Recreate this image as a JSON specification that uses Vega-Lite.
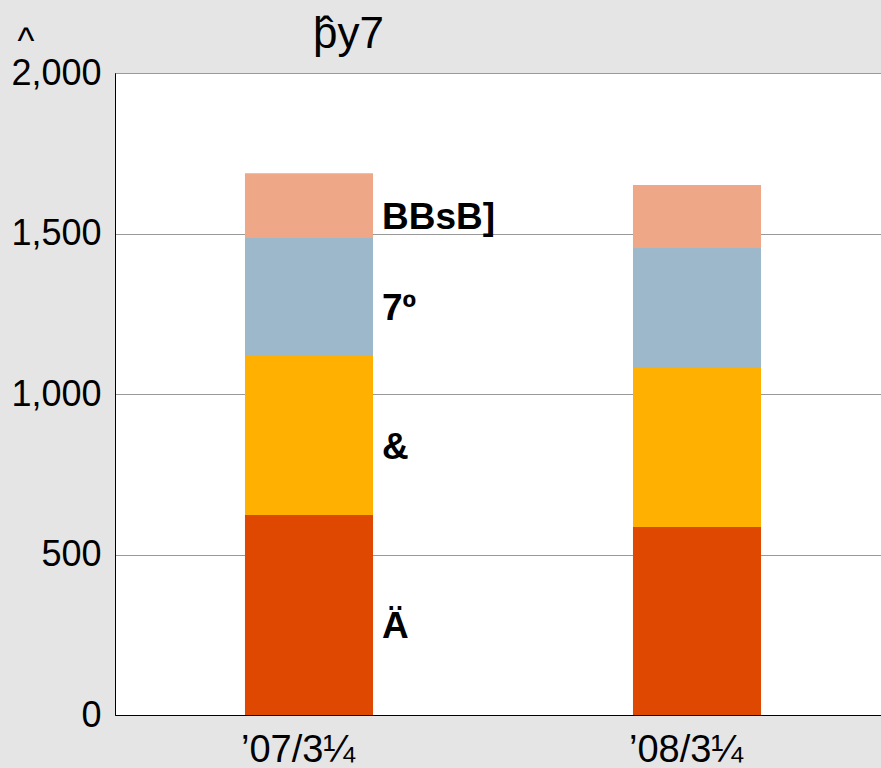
{
  "$schema": "https://vega.github.io/schema/vega-lite/v6.json",
  "width": 776,
  "height": 642,
  "autosize": {"type": "none"},
  "padding": {"left": 115, "top": 73, "right": 0, "bottom": 53},
  "background": "#e5e5e5",
  "config": {
    "font": "Liberation Sans",
    "view": {"fill": "white", "stroke": "black", "strokeWidth": 1}
  },
  "title": {
    "text": "þ̂y7",
    "anchor": "start",
    "frame": "group",
    "dx": 198,
    "offset": -69,
    "baseline": "alphabetic",
    "fontSize": 44,
    "fontWeight": "normal",
    "color": "black",
    "font": "Liberation Sans"
  },
  "data": {
    "values": [
      {"period": "’07/3¼", "series": "Ä", "rank": 1, "value": 623},
      {"period": "’07/3¼", "series": "&", "rank": 2, "value": 495},
      {"period": "’07/3¼", "series": "7º", "rank": 3, "value": 368},
      {"period": "’07/3¼", "series": "BBsB]", "rank": 4, "value": 202},
      {"period": "’08/3¼", "series": "Ä", "rank": 1, "value": 586},
      {"period": "’08/3¼", "series": "&", "rank": 2, "value": 495},
      {"period": "’08/3¼", "series": "7º", "rank": 3, "value": 374},
      {"period": "’08/3¼", "series": "BBsB]", "rank": 4, "value": 196}
    ]
  },
  "encoding": {
    "x": {
      "field": "period",
      "type": "nominal",
      "sort": null,
      "scale": {"paddingInner": 0.67, "paddingOuter": 0.335},
      "axis": {
        "title": null,
        "labelAngle": 0,
        "labelFontSize": 38,
        "labelColor": "black",
        "labelPadding": 16,
        "labelOffset": -11,
        "ticks": false,
        "tickSize": 0,
        "domainColor": "black",
        "domainWidth": 1
      }
    },
    "y": {
      "field": "value",
      "type": "quantitative",
      "stack": "zero",
      "scale": {"domain": [0, 2000], "nice": false},
      "axis": {
        "title": "^",
        "titleAngle": 0,
        "titleAlign": "left",
        "titleBaseline": "alphabetic",
        "titleX": -98,
        "titleY": -21,
        "titleFontSize": 36,
        "titleFontWeight": "normal",
        "titleColor": "black",
        "values": [0, 500, 1000, 1500, 2000],
        "format": ",d",
        "labelFontSize": 36,
        "labelColor": "black",
        "labelPadding": 14,
        "ticks": false,
        "tickSize": 0,
        "domainColor": "black",
        "gridColor": "#999999",
        "gridWidth": 1
      }
    },
    "order": {"field": "rank", "type": "quantitative"}
  },
  "layer": [
    {
      "mark": {"type": "bar"},
      "encoding": {
        "color": {
          "field": "series",
          "type": "nominal",
          "scale": {
            "domain": ["Ä", "&", "7º", "BBsB]"],
            "range": ["#de4800", "#ffb000", "#9db8cb", "#eea888"]
          },
          "legend": null
        }
      }
    },
    {
      "transform": [{"filter": "datum.period == '’07/3¼'"}],
      "mark": {
        "type": "text",
        "align": "left",
        "baseline": "middle",
        "dx": 9,
        "dy": 12,
        "fontSize": 37,
        "fontWeight": "bold",
        "color": "black"
      },
      "encoding": {
        "x": {"field": "period", "type": "nominal", "sort": null, "bandPosition": 1},
        "y": {"field": "value", "type": "quantitative", "stack": "zero", "bandPosition": 0.5},
        "text": {"field": "series"}
      }
    }
  ]
}
